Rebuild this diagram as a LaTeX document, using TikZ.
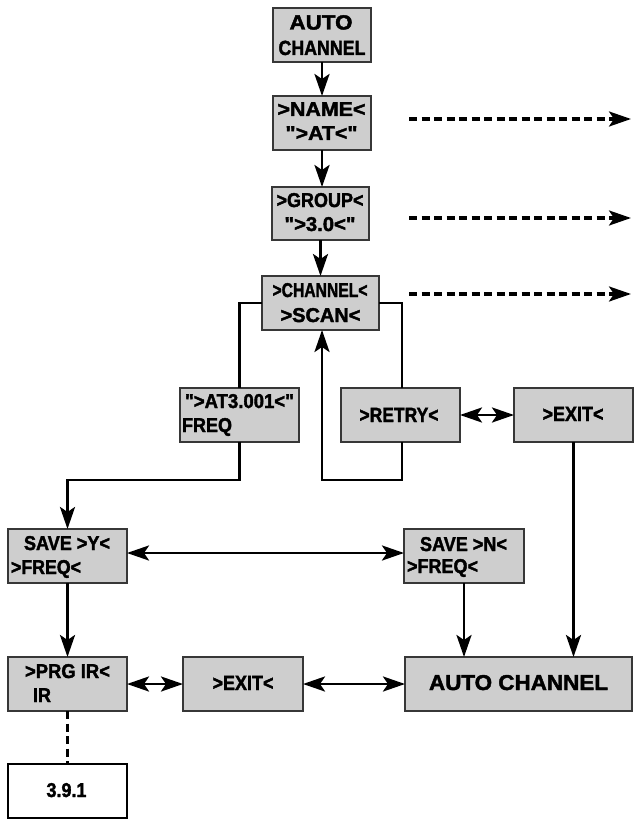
\documentclass[tikz,border=0pt]{standalone}
\usepackage{fontspec}
\setmainfont{Liberation Sans}[BoldFeatures={FakeBold=2}]
\usepackage{graphicx}
\usetikzlibrary{arrows.meta}
\definecolor{boxfill}{RGB}{206,206,206}
\definecolor{boxline}{RGB}{55,55,55}
\newcommand\fitw[2]{\sbox0{#2}\resizebox{#1pt}{\ht0}{#2}}
\newcommand\q{\textquotedbl}
\newcommand\bx[6][box]{\node[#1, minimum width={(#5-#3)*1pt}, minimum height={(#6-#4)*1pt}] (#2) at ({(#3+#5)/2},{(#4+#6)/2}) {};}
\tikzset{
  box/.style={draw=boxline, line width=1.3pt, fill=boxfill, inner sep=0pt, outer sep=0pt},
  refbox/.style={draw=black, line width=1.3pt, fill=white, inner sep=0pt, outer sep=0pt},
  txt/.style={inner sep=0pt, outer sep=0pt, font=\fontsize{20}{20}\selectfont\bfseries},
  txtL/.style={inner sep=0pt, outer sep=0pt, font=\fontsize{20.5}{20.5}\selectfont\bfseries},
  txtXL/.style={inner sep=0pt, outer sep=0pt, font=\fontsize{21.5}{21.5}\selectfont\bfseries},
  tip/.tip={Stealth[length=22pt, width=15pt, inset=5pt]},
  ln/.style={line width=2.9pt, line join=miter},
  arr/.style={ln, -tip},
  arr2/.style={ln, tip-tip},
  dln/.style={line width=3.1pt, dash pattern=on 8pt off 4.5pt},
  darr/.style={dln, -tip},
}
\begin{document}
\begin{tikzpicture}[x=1pt, y=-1pt]
\useasboundingbox (0,0) rectangle (634,821);
% boxes
\bx{auto}{273}{8}{371}{62}
\bx{name}{273}{96}{371}{150}
\bx{group}{272}{187}{369}{240}
\bx{chan}{262}{276}{379}{330}
\bx{at}{180}{388}{299}{442}
\bx{retry}{341}{388}{460}{442}
\bx{exita}{514}{388}{633}{442}
\bx{savey}{8}{529}{127}{583}
\bx{saven}{404}{529}{524}{583}
\bx{prg}{8}{657}{127}{711}
\bx{exitb}{183}{657}{303}{711}
\bx{autob}{405}{657}{632}{711}
\bx[refbox]{ref}{8}{764}{127}{818}
% texts
\node[txtL, anchor=base] (tauto1) at (321,29.5) {\fitw{63}{AUTO}};
\node[txtL, anchor=base] (tauto2) at (322,55) {\fitw{87}{CHANNEL}};
\node[txt, anchor=base] (tname1) at (321.5,116) {\fitw{88}{>NAME<}};
\node[txt, anchor=base] (tname2) at (321.5,140) {\fitw{72}{\q>AT<\q}};
\node[txt, anchor=base] (tgrp1) at (320,207) {\fitw{87}{>GROUP<}};
\node[txt, anchor=base] (tgrp2) at (320,231) {\fitw{71}{\q>3.0<\q}};
\node[txt, anchor=base] (tch1) at (320,297) {\fitw{95}{>CHANNEL<}};
\node[txt, anchor=base] (tch2) at (320.5,322) {\fitw{80}{>SCAN<}};
\node[txt, anchor=base west] (tat1) at (185,408) {\fitw{109}{\q>AT3.001<\q}};
\node[txt, anchor=base west] (tat2) at (182,432) {\fitw{50}{FREQ}};
\node[txtL, anchor=base] (tretry) at (399,422) {\fitw{79}{>RETRY<}};
\node[txtL, anchor=base] (texita) at (573,421) {\fitw{61}{>EXIT<}};
\node[txt, anchor=base west] (tsy1) at (24,550) {\fitw{86}{SAVE >Y<}};
\node[txt, anchor=base west] (tsy2) at (11,574) {\fitw{70}{>FREQ<}};
\node[txt, anchor=base west] (tsn1) at (420,551) {\fitw{87}{SAVE >N<}};
\node[txt, anchor=base west] (tsn2) at (407,573) {\fitw{71}{>FREQ<}};
\node[txt, anchor=base west] (tprg1) at (25,678) {\fitw{85}{>PRG IR<}};
\node[txt, anchor=base west] (tprg2) at (33,702) {\fitw{18}{IR}};
\node[txtL, anchor=base] (texitb) at (243,690) {\fitw{61}{>EXIT<}};
\node[txtXL, anchor=base] (tautob) at (518.5,690) {\fitw{179}{AUTO CHANNEL}};
\node[txt, anchor=base] (tref) at (66.5,797) {\fitw{40}{3.9.1}};
% dashed outgoing arrows
\coordinate (da1) at (409,119); \coordinate (db1) at (631,119);
\coordinate (da2) at (409,218); \coordinate (db2) at (631,218);
\coordinate (da3) at (409,294); \coordinate (db3) at (631,294);
\draw[darr] (da1) -- (db1);
\draw[darr] (da2) -- (db2);
\draw[darr] (da3) -- (db3);
% connectors
\draw[arr] (auto) -- (name);
\draw[arr] (name.south) -- (name.south |- group.north);
\draw[arr] (group) -- (chan);
\draw[ln] (chan.west) -| (at.north);
\draw[arr] (at.south) -- ++(0,38) -| (savey.north);
\draw[ln] (chan.east) -| ([xshift=1.5pt]retry.north);
\draw[arr] ([xshift=1.5pt]retry.south) -- ++(0,38) -| ([xshift=1.5pt]chan.south);
\draw[arr2] (retry) -- (exita);
\draw[arr] (exita.south) -- (exita.south |- autob.north);
\draw[arr2] ([yshift=3pt]savey.east) -- ([yshift=3pt]saven.west);
\draw[arr] (savey) -- (prg);
\draw[arr] (saven.south) -- (saven.south |- autob.north);
\draw[arr2] (prg) -- (exitb);
\draw[arr2] (exitb) -- (autob);
\draw[dln] (prg) -- (ref);
\end{tikzpicture}
\end{document}
